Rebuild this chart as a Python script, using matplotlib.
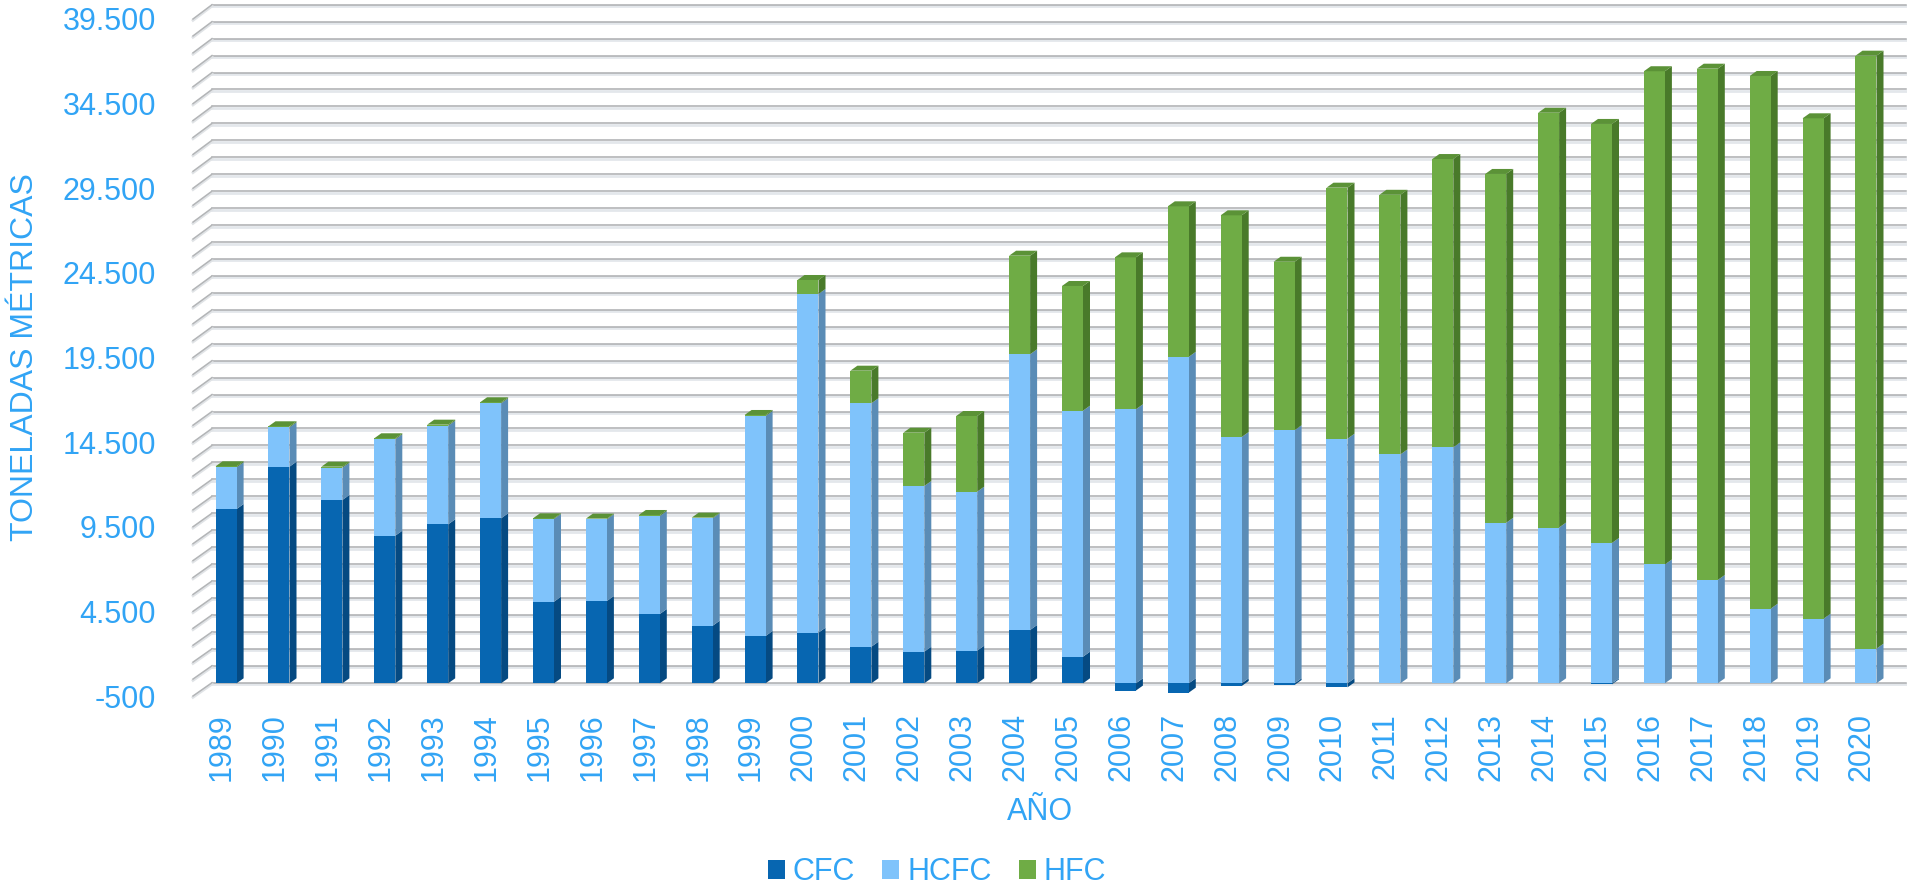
import matplotlib
matplotlib.use('Agg')
import matplotlib.pyplot as plt
import matplotlib.transforms as mtransforms
from matplotlib.patches import Polygon, Patch
from matplotlib.lines import Line2D
import numpy as np

plt.rcParams['font.family'] = ['Liberation Sans', 'DejaVu Sans']

# ---------------- data ----------------
years = [str(y) for y in range(1989, 2021)]
cfc = [10283, 12780, 10814, 8708, 9380, 9734, 4814, 4855, 4088, 3398, 2791,
       2986, 2161, 1866, 1925, 3145, 1570, -430, -550, -160, -100, -240,
       0, 0, 0, 0, -60, 0, 0, 0, 0, 0]
hcfc = [2460, 2323, 1906, 5687, 5818, 6785, 4879, 4820, 5782, 6336, 12979,
        19982, 14358, 9774, 9380, 16265, 14513, 16165, 19260, 14530, 14930, 14430,
        13500, 13920, 9470, 9190, 8280, 7010, 6095, 4403, 3813, 2043]
hfc = [60, 60, 60, 60, 60, 60, 40, 40, 60, 40, 60,
       826, 1924, 3145, 4465, 5817, 7357, 8965, 8880, 13080, 9940, 14810,
       15320, 17010, 20580, 24470, 24720, 29100, 30165, 31427, 29520, 34984]
series_names = ['CFC', 'HCFC', 'HFC']
y_min, y_max, grid_step, label_step = -500, 39500, 1000, 5000

# ---------------- style ----------------
TXT = '#31a4f5'
front_cols = ['#0766b1', '#7fc3fb', '#6fac45']
side_cols = ['#054a82', '#5a8cb6', '#497a2a']
top_cols = ['#0a5796', '#6aa6d6', '#5b9237']

W, H = 1908, 886
fig = plt.figure(figsize=(W / 100, H / 100), dpi=100)


def rect(l, r, top, bot):
    return [l / W, 1 - bot / H, (r - l) / W, (bot - top) / H]


# back wall with gridlines
axw = fig.add_axes(rect(212, 1906, 4.7, 682.7))
axw.set_xlim(0, 1)
axw.set_ylim(y_min, y_max)
axw.axis('off')
grid = np.arange(y_min, y_max + 1, grid_step)
for g in grid:
    axw.axhline(g - 90, color='#e3e7eb', lw=2.0, clip_on=False, zorder=1)
    axw.axhline(g, color='#acaeb0', lw=1.1, clip_on=False, zorder=2)

# front plane (value labels)
axf = fig.add_axes(rect(193, 1906, 19, 696), facecolor='none')
axf.set_xlim(0, 1)
axf.set_ylim(y_min, y_max)
ticks = np.arange(y_min, y_max + 1, label_step)
axf.set_yticks(ticks)
axf.set_yticklabels([f"{int(v):,}".replace(',', '.') for v in ticks])
axf.tick_params(axis='y', length=0, pad=26.5, labelsize=22, labelcolor=TXT)
axf.set_xticks([])
for s in axf.spines.values():
    s.set_visible(False)

# diagonal connectors between front plane and back wall
inv = fig.transFigure.inverted()
for g in grid:
    p1 = inv.transform(axf.transData.transform((0, g)))
    p2 = inv.transform(axw.transData.transform((0, g)))
    fig.add_artist(Line2D([p1[0], p2[0]], [p1[1] - 0.0015, p2[1] - 0.0015],
                          transform=fig.transFigure, color='#e0e3e6', lw=2.0))
    fig.add_artist(Line2D([p1[0], p2[0]], [p1[1], p2[1]],
                          transform=fig.transFigure, color='#b3b5b7', lw=1.1))

# bars
X0, P = 226.1, 52.9      # px of first bar centre, px pitch
ppu, Y0 = 0.01695, 683.3  # px per unit, px of value 0
L, R, T, B = 193, 1906, 0, 700
axb = fig.add_axes(rect(L, R, T, B), facecolor='none')
axb.set_xlim((L - X0) / P, (R - X0) / P)
axb.set_ylim((Y0 - B) / ppu, (Y0 - T) / ppu)

bw = 21 / P
dx = 7 / P
dy = 5 / ppu
x = np.arange(len(years))

for i in range(len(years)):
    segs = []
    c = cfc[i]
    if c < 0:
        segs.append((c, 0, 0))
        base = 0
    else:
        segs.append((0, c, 0))
        base = c
    segs.append((base, base + hcfc[i], 1))
    segs.append((base + hcfc[i], base + hcfc[i] + hfc[i], 2))
    xl, xr = x[i] - bw / 2, x[i] + bw / 2
    for (b, t, k) in segs:
        if t - b <= 0:
            continue
        axb.bar(x[i], t - b, bottom=b, width=bw, color=front_cols[k],
                linewidth=0, zorder=3)
        axb.add_patch(Polygon([(xr, b), (xr + dx, b + dy), (xr + dx, t + dy), (xr, t)],
                              closed=True, facecolor=side_cols[k], edgecolor='none',
                              zorder=2.9))
    tb, tt, tk = segs[-1]
    axb.add_patch(Polygon([(xl, tt), (xl + dx, tt + dy), (xr + dx, tt + dy), (xr, tt)],
                          closed=True, facecolor=top_cols[tk], edgecolor='none', zorder=3))

axb.set_xticks(x)
axb.set_xticklabels(years, rotation=90)
axb.tick_params(axis='x', length=0, pad=9.5, labelsize=22, labelcolor=TXT)
shift = mtransforms.ScaledTranslation(-4 / 100, 0, fig.dpi_scale_trans)
for lab in axb.get_xticklabels():
    lab.set_transform(lab.get_transform() + shift)
axb.set_yticks([])
for s in axb.spines.values():
    s.set_visible(False)

# axis titles
fig.text(25 / W, 1 - 357 / H, 'TONELADAS MÉTRICAS', rotation=90, ha='center',
         va='center', fontsize=23, color=TXT)
fig.text(1040 / W, 1 - 812 / H, 'AÑO', ha='center', va='center', fontsize=22, color=TXT)

# legend
handles = [Patch(facecolor=c, edgecolor='none') for c in front_cols]
fig.legend(handles, series_names, loc='center', bbox_to_anchor=(937 / W, 1 - 872 / H),
           ncol=3, frameon=False, fontsize=22, handlelength=0.56, handleheight=0.56,
           handletextpad=0.26, columnspacing=0.88, labelcolor=TXT, borderpad=0,
           borderaxespad=0)

fig.savefig('out.png', dpi=100)
